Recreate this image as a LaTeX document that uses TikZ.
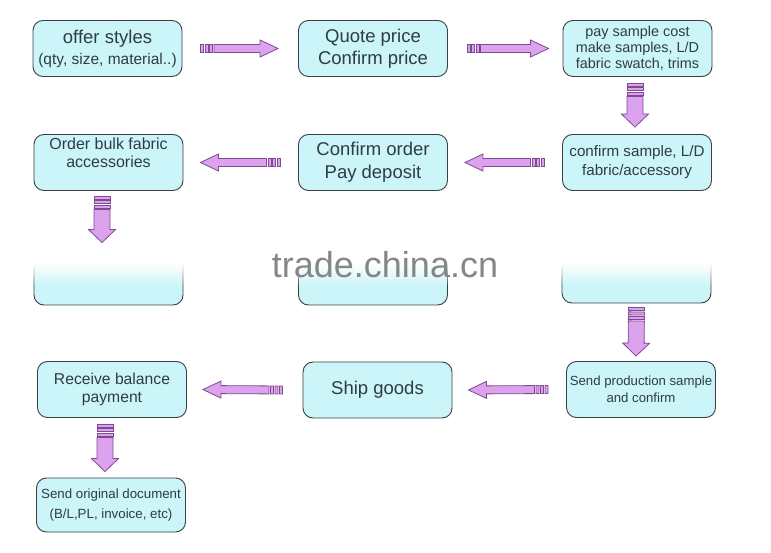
\documentclass[tikz,border=0pt]{standalone}
\usepackage{fontspec}
\setmainfont{Liberation Sans}
\usetikzlibrary{calc,fadings}

\definecolor{boxfill}{HTML}{CBF5F8}
\definecolor{boxline}{HTML}{3A3F44}
\definecolor{boxtext}{HTML}{2E3C46}
\definecolor{arrowfill}{HTML}{DDA2EE}
\definecolor{arrowline}{HTML}{7E4A90}

\tikzfading[name=fadedown, top color=transparent!0, bottom color=transparent!100]

\tikzset{
  box/.style={draw=boxline, line width=0.9pt, fill=boxfill, rounded corners=10pt,
    text=boxtext, minimum width=149pt, minimum height=56pt, align=center, inner sep=0pt},
  arrowpart/.style={fill=arrowfill, draw=arrowline, line width=0.8pt, line join=miter}
}

% block arrow: tail, tip, half body, half head, head length
\newcommand\flowarrow[5]{%
  \coordinate (fa-s) at #1;
  \coordinate (fa-e) at #2;
  \foreach \a/\b in {0/3,4.5/7.5,9/12}{
    \path ($(fa-s)!\a pt!(fa-e)$) coordinate (fa-p) ($(fa-s)!\b pt!(fa-e)$) coordinate (fa-q);
    \filldraw[arrowpart] ($(fa-p)!#3!90:(fa-e)$) -- ($(fa-q)!#3!90:(fa-e)$)
      -- ($(fa-q)!#3!-90:(fa-e)$) -- ($(fa-p)!#3!-90:(fa-e)$) -- cycle;
  }
  \path ($(fa-s)!13.5pt!(fa-e)$) coordinate (fa-b) ($(fa-e)!#5!(fa-s)$) coordinate (fa-h);
  \filldraw[arrowpart] ($(fa-b)!#3!90:(fa-e)$) -- ($(fa-h)!#3!90:(fa-e)$) -- ($(fa-h)!#4!90:(fa-e)$)
    -- (fa-e) -- ($(fa-h)!#4!-90:(fa-e)$) -- ($(fa-h)!#3!-90:(fa-e)$) -- ($(fa-b)!#3!-90:(fa-e)$) -- cycle;
}
\newcommand\harrow[2]{\flowarrow{#1}{#2}{4pt}{8.5pt}{18pt}}
\newcommand\varrow[2]{\flowarrow{#1}{#2}{8pt}{13.5pt}{13pt}}

\begin{document}
\begin{tikzpicture}[x=1pt, y=-1pt]

\useasboundingbox[fill=white] (0,0) rectangle (771,553);

% First row
\node[box, font=\fontsize{18.5}{21}\selectfont] (offer) at (107.5,48.5)
  {offer styles\\\fontsize{15.5}{21}\selectfont (qty, size, material..)};
\node[box, font=\fontsize{18.5}{22}\selectfont] (quote) at (373,48.5)
  {Quote price\\Confirm price};
\node[box, font=\fontsize{14.4}{16}\selectfont] (paysample) at (637.5,48.5)
  {pay sample cost\\make samples, L/D\\fabric swatch, trims};

% Second row
\node[box, font=\fontsize{15.2}{19}\selectfont] (confsample) at (637,162.5)
  {confirm sample, L/D\\fabric/accessory};
\node[box, font=\fontsize{18.5}{23}\selectfont] (conforder) at (373,162.5)
  {Confirm order\\Pay deposit};
\node[box, font=\fontsize{16}{17.5}\selectfont] (bulk) at (108.5,162.5)
  {Order bulk fabric\\accessories\\[2pt]};

% Third row, covered by the watermark band
\node[box] (rowg) at (108.5,277) {};
\node[box] (rowh) at (373,277) {};
\node[box] (rowi) at (636.5,275) {};
\fill[white] (15,196) rectangle (745,263);
\fill[white, path fading=fadedown] (15,263) rectangle (745,286);
\node[text=gray!95, font=\fontsize{36}{36}\selectfont, inner sep=0pt] (mark) at (385,264.5) {trade.china.cn};

% Fourth row
\node[box, font=\fontsize{13.2}{17}\selectfont] (prodsample) at (641,389.5)
  {Send production sample\\and confirm};
\node[box, font=\fontsize{18.5}{22}\selectfont] (ship) at (377.5,390)
  {Ship goods};
\node[box, font=\fontsize{15.7}{18}\selectfont] (balance) at (112,389.5)
  {Receive balance\\payment};
\node[box, minimum height=54pt, font=\fontsize{13.3}{20}\selectfont] (original) at (111,505)
  {Send original document\\(B/L,PL, invoice, etc)};

% Arrows
\harrow{([xshift=18pt]offer.east)}{([xshift=-20pt]quote.west)}
\harrow{([xshift=19pt]quote.east)}{([xshift=-14pt]paysample.west)}
\varrow{([xshift=-2.5pt,yshift=-6pt]paysample.south)}{([xshift=-2pt,yshift=7pt]confsample.north)}
\harrow{([xshift=-18pt]confsample.west)}{([xshift=17pt]conforder.east)}
\harrow{([xshift=-18pt]conforder.west)}{([xshift=17pt]bulk.east)}
\varrow{([xshift=-6.5pt,yshift=-5pt]bulk.south)}{([xshift=-6.5pt,yshift=6pt]rowg.north)}
\varrow{([yshift=-4pt]rowi.south)}{([xshift=-5pt,yshift=5pt]prodsample.north)}
\harrow{([xshift=-18pt]prodsample.west)}{([xshift=16pt]ship.east)}
\harrow{([xshift=-20pt]ship.west)}{([xshift=16pt]balance.east)}
\varrow{([xshift=-7pt,yshift=-6pt]balance.south)}{([xshift=-6pt,yshift=6pt]original.north)}

\end{tikzpicture}
\end{document}
